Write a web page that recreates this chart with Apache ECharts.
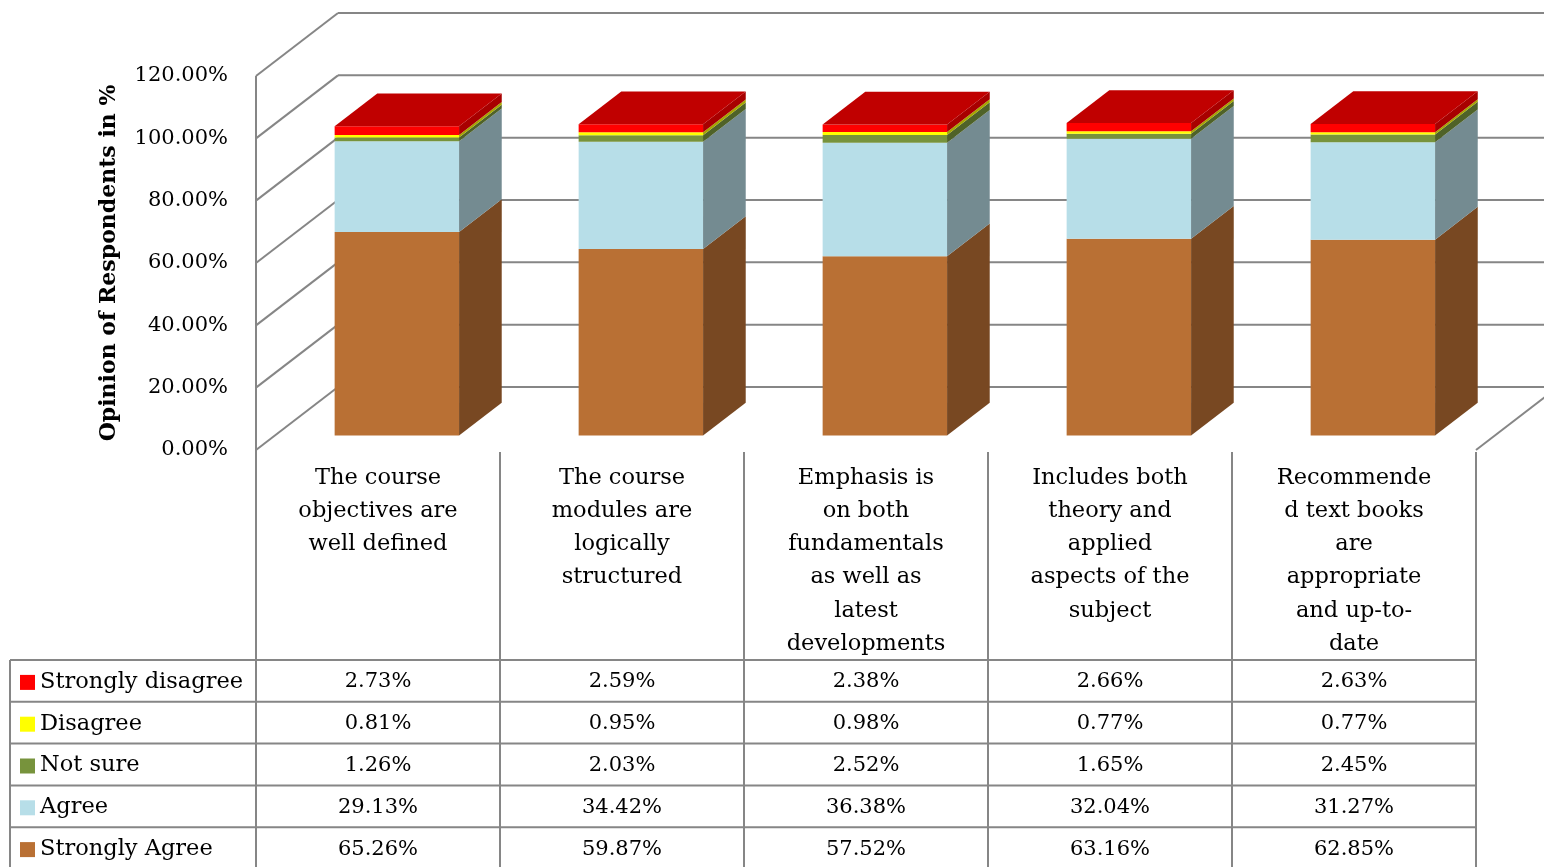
<!DOCTYPE html>
<html>
<head>
<meta charset="utf-8">
<script src="https://cdn.jsdelivr.net/npm/echarts@6/dist/echarts.min.js"></script>
<style>
  html, body { margin: 0; padding: 0; background: #fff; }
  #main { width: 1544px; height: 867px; }
</style>
</head>
<body>
<div id="main"></div>
<script>
// categories (wrapped as in the table header)
const categories = [
  'The course\nobjectives are\nwell defined',
  'The course\nmodules are\nlogically\nstructured',
  'Emphasis is\non both\nfundamentals\nas well as\nlatest\ndevelopments',
  'Includes both\ntheory and\napplied\naspects of the\nsubject',
  'Recommende\nd text books\nare\nappropriate\nand up-to-\ndate'
];
const stronglyAgree = [65.26, 59.87, 57.52, 63.16, 62.85];
const agree = [29.13, 34.42, 36.38, 32.04, 31.27];
const notSure = [1.26, 2.03, 2.52, 1.65, 2.45];
const disagree = [0.81, 0.95, 0.98, 0.77, 0.77];
const stronglyDisagree = [2.73, 2.59, 2.38, 2.66, 2.63];
const yTicks = [0, 20, 40, 60, 80, 100, 120];

// stacking order bottom -> top
const segments = [
  { name: 'Strongly Agree', values: stronglyAgree, front: '#B97034', side: '#784822' },
  { name: 'Agree', values: agree, front: '#B7DEE8', side: '#748B91' },
  { name: 'Not sure', values: notSure, front: '#77933C', side: '#4F6228' },
  { name: 'Disagree', values: disagree, front: '#FFFF00', side: '#A6A600' },
  { name: 'Strongly disagree', values: stronglyDisagree, front: '#FF0000', side: '#A80000', top: '#C00000' }
];

// oblique 3d look
const DX = 82, DY = -63;
const BAR_FRONT = 0.23, BAR_DEPTH = 0.52, BAR_W = 0.51;
const GRID_COLOR = '#868686';
const FONT = 'DejaVu Serif';
const ROW_H = 41.8, HEADER_BOTTOM = 660, TABLE_LEFT = 10;

const chart = echarts.init(document.getElementById('main'));

function line(x1, y1, x2, y2) {
  return {
    type: 'line',
    shape: { x1: x1, y1: y1, x2: x2, y2: y2 },
    style: { stroke: GRID_COLOR, lineWidth: 2 }
  };
}

function txt(s, x, y, align, size) {
  return {
    type: 'text',
    style: {
      text: s, x: x, y: y,
      textAlign: align || 'center', textVerticalAlign: 'middle',
      fontFamily: FONT, fontSize: size || 21, fill: '#000'
    }
  };
}

// walls: left wall diagonals + back wall lines
function renderWalls(params, api) {
  const cs = params.coordSys;
  const v = api.value(1);
  const y = api.coord([0, v])[1];
  const x = cs.x;
  const children = [
    line(x, y, x + DX, y + DY),
    line(x + DX, y + DY, x + cs.width + DX, y + DY)
  ];
  if (v === yTicks[0]) {
    children.push(line(x + cs.width, y, x + cs.width + DX, y + DY));
  }
  return { type: 'group', children: children };
}

function barRenderer(seg, isTop) {
  return function (params, api) {
    const i = api.value(0);
    const c0 = api.coord([i, api.value(1)]);
    const c1 = api.coord([i, api.value(2)]);
    const band = api.size([1, 0])[0];
    const half = band * BAR_W / 2;
    const ox = DX * BAR_FRONT, oy = DY * BAR_FRONT;
    const xl = c0[0] - half + ox, xr = c0[0] + half + ox;
    const yb = c0[1] + oy, yt = c1[1] + oy;
    const dx = DX * BAR_DEPTH, dy = DY * BAR_DEPTH;
    const children = [
      { type: 'rect', shape: { x: xl, y: yt, width: xr - xl, height: yb - yt }, style: { fill: seg.front } },
      { type: 'polygon', shape: { points: [[xr, yb], [xr + dx, yb + dy], [xr + dx, yt + dy], [xr, yt]] }, style: { fill: seg.side } }
    ];
    if (isTop) {
      children.push({ type: 'polygon', shape: { points: [[xl, yt], [xr, yt], [xr + dx, yt + dy], [xl + dx, yt + dy]] }, style: { fill: seg.top } });
    }
    return { type: 'group', children: children };
  };
}

// table under the plot
function renderTable(params, api) {
  const i = api.value(0);
  const c = api.coord([i, 0]);
  const band = api.size([1, 0])[0];
  const xl = c[0] - band / 2, xr = c[0] + band / 2;
  const y0 = c[1] + 2;
  const bottom = HEADER_BOTTOM + ROW_H * segments.length;
  const children = [line(xr, y0, xr, bottom + 4)];
  if (i === 0) {
    // front edge of the left wall continues down as the table border
    const yTop = api.coord([0, yTicks[yTicks.length - 1]])[1];
    children.push(line(xl, yTop, xl, bottom + 4));
  }

  categories[i].split('\n').forEach(function (s, k) {
    children.push(txt(s, c[0], 478 + k * 33.2, 'center', 22.5));
  });

  const rows = segments.slice().reverse();
  rows.forEach(function (seg, r) {
    const top = HEADER_BOTTOM + r * ROW_H;
    children.push(line(xl, top, xr, top));
    children.push(txt(seg.values[i].toFixed(2) + '%', c[0], top + ROW_H / 2 + 1));
    if (i === 0) {
      children.push(line(TABLE_LEFT, top, xl, top));
      children.push({ type: 'rect', shape: { x: 20, y: top + ROW_H / 2 - 6, width: 15, height: 15 }, style: { fill: seg.front } });
      children.push(txt(seg.name, 40, top + ROW_H / 2 + 1, 'left', 22.5));
    }
  });
  children.push(line(xl, bottom, xr, bottom));
  if (i === 0) {
    children.push(line(TABLE_LEFT, HEADER_BOTTOM, TABLE_LEFT, bottom + 4));
    children.push(line(TABLE_LEFT, bottom, xl, bottom));
  }
  return { type: 'group', children: children };
}

const series = [{
  type: 'custom',
  name: 'walls',
  renderItem: renderWalls,
  data: yTicks.map(function (v) { return [0, v]; }),
  encode: { x: 0, y: 1 },
  silent: true,
  z: 1
}];

let base = categories.map(function () { return 0; });
segments.forEach(function (seg, s) {
  const data = categories.map(function (c, i) {
    return [i, base[i], base[i] + seg.values[i]];
  });
  base = base.map(function (b, i) { return b + seg.values[i]; });
  series.push({
    type: 'custom',
    name: seg.name,
    renderItem: barRenderer(seg, s === segments.length - 1),
    data: data,
    encode: { x: 0, y: [1, 2] },
    z: 2
  });
});

series.push({
  type: 'custom',
  name: 'table',
  renderItem: renderTable,
  data: categories.map(function (c, i) { return [i, 0]; }),
  encode: { x: 0, y: 1 },
  silent: true,
  z: 3
});

chart.setOption({
  animation: false,
  backgroundColor: '#fff',
  grid: { left: 256, right: 68, top: 76, bottom: 417 },
  xAxis: {
    type: 'category',
    data: categories,
    axisLine: { show: false },
    axisTick: { show: false },
    axisLabel: { show: false },
    splitLine: { show: false }
  },
  yAxis: {
    type: 'value',
    min: 0,
    max: 120,
    interval: 20,
    name: 'Opinion of Respondents in %',
    nameLocation: 'middle',
    nameRotate: 90,
    nameGap: 136,
    nameTextStyle: { fontFamily: FONT, fontSize: 22, fontWeight: 'bold', color: '#000' },
    axisLine: { show: false },
    axisTick: { show: false },
    splitLine: { show: false },
    axisLabel: {
      margin: 28,
      fontFamily: FONT,
      fontSize: 21,
      color: '#000',
      formatter: function (v) { return v.toFixed(2) + '%'; }
    }
  },
  series: series
});
</script>
</body>
</html>
